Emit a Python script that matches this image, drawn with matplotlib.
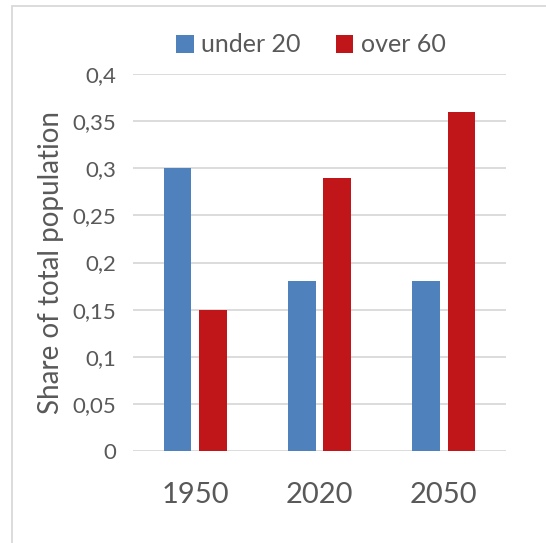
import matplotlib
matplotlib.use('Agg')
import matplotlib.pyplot as plt
import matplotlib.patches as mpatches
import numpy as np

# Chart data
years = ['1950', '2020', '2050']
under_20 = [0.30, 0.18, 0.18]
over_60 = [0.15, 0.29, 0.36]
y_ticks = [0, 0.05, 0.1, 0.15, 0.2, 0.25, 0.3, 0.35, 0.4]
y_tick_labels = ['0', '0,05', '0,1', '0,15', '0,2', '0,25', '0,3', '0,35', '0,4']

plt.rcParams['font.family'] = ['Lato', 'DejaVu Sans']
grey = '#595959'

fig = plt.figure(figsize=(5.46, 5.43), dpi=100)
ax = fig.add_axes([133 / 546, 1 - 451 / 543, 373 / 546, 377 / 543])

x = np.arange(len(years))
width = 0.225
offset = 0.142
ax.bar(x - offset, under_20, width=width, color='#4F81BD', label='under 20', zorder=3)
ax.bar(x + offset, over_60, width=width, color='#C0161A', label='over 60', zorder=3)

ax.set_xlim(-0.5, 2.5)
ax.set_ylim(0, 0.4)
ax.set_yticks(y_ticks)
ax.set_yticklabels(y_tick_labels)
ax.set_xticks(x)
ax.set_xticklabels(years)
ax.grid(axis='y', color='#D9D9D9', linewidth=1.3, zorder=0)
ax.set_axisbelow(True)
for s in ax.spines.values():
    s.set_visible(False)
ax.tick_params(length=0)
ax.tick_params(axis='y', labelsize=16, labelcolor=grey, pad=12)
ax.tick_params(axis='x', labelsize=21, labelcolor=grey, pad=22)
ax.set_ylabel('Share of total population', fontsize=20, color=grey, labelpad=6)

fig.legend(loc='center', bbox_to_anchor=(311 / 546, 1 - 45 / 543), ncol=2, frameon=False,
           fontsize=18, labelcolor=grey, handlelength=0.7, handleheight=0.7,
           handletextpad=0.3, columnspacing=1.4)

# Light frame around the chart area
frame = mpatches.Rectangle((12 / 546, -0.1), 1.2, 1 - 6 / 543 + 0.1, transform=fig.transFigure,
                           fill=False, edgecolor='#D9D9D9', linewidth=1.3)
fig.patches.append(frame)

fig.savefig('out.png', dpi=100)
